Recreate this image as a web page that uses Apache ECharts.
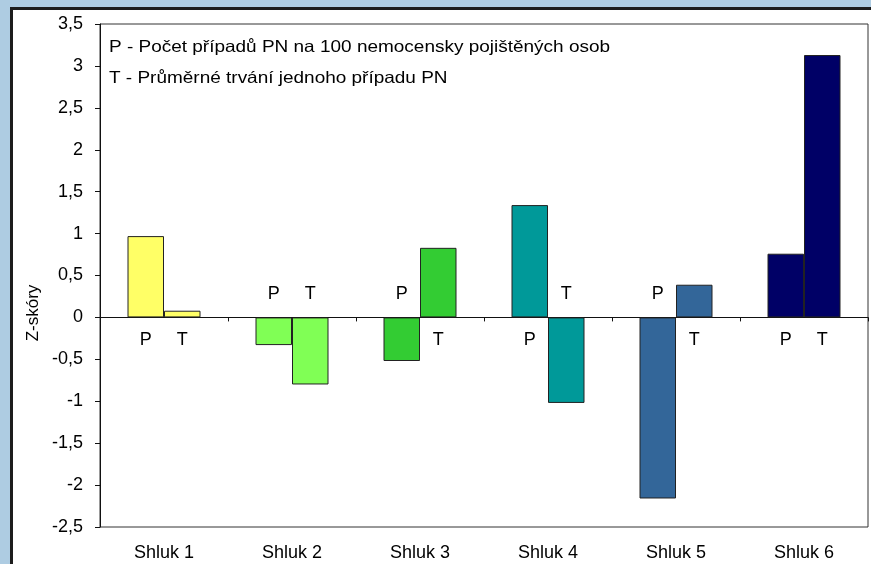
<!DOCTYPE html>
<html>
<head>
<meta charset="utf-8">
<script src="https://cdn.jsdelivr.net/npm/echarts@6/dist/echarts.min.js"></script>
<style>
  html, body { margin: 0; padding: 0; width: 871px; height: 564px; overflow: hidden; background: #aecce2; }
  #frame { position: absolute; left: 10px; top: 7px; width: 900px; height: 600px; background: #fff; border-left: 3px solid #1c1c1c; border-top: 3px solid #1c1c1c; }
  #chart { position: absolute; left: 0; top: 0; width: 871px; height: 564px; }
</style>
</head>
<body>
<div id="frame"></div>
<div id="chart"></div>
<script>
const categories = ['Shluk 1', 'Shluk 2', 'Shluk 3', 'Shluk 4', 'Shluk 5', 'Shluk 6'];
const valuesP = [0.97, -0.33, -0.52, 1.34, -2.16, 0.76];
const valuesT = [0.08, -0.80, 0.83, -1.02, 0.39, 3.13];
const clusterColors = ['#ffff66', '#80ff55', '#33cc33', '#009999', '#336699', '#000066'];
const legendLines = [
  'P - Počet případů PN na 100 nemocensky pojištěných osob',
  'T - Průměrné trvání jednoho případu PN'
];
const yTicks = { min: -2.5, max: 3.5, interval: 0.5 };
const yAxisTitle = 'Z-skóry';

const FONT = '"Liberation Sans", Arial, sans-serif';

function makeData(values, letter) {
  return values.map((v, i) => ({
    value: v,
    itemStyle: { color: clusterColors[i] },
    label: { position: v >= 0 ? 'bottom' : 'top', formatter: letter }
  }));
}

const chart = echarts.init(document.getElementById('chart'), null, { renderer: 'canvas' });
chart.setOption({
  backgroundColor: 'transparent',
  animation: false,
  textStyle: { fontFamily: FONT },
  grid: { left: 100, top: 24, right: 3, bottom: 37, show: true, borderColor: '#333', borderWidth: 1, backgroundColor: 'transparent' },
  xAxis: [
    {
      type: 'category', data: categories,
      axisLine: { onZero: true, lineStyle: { color: '#111', width: 1 } },
      axisTick: { show: true, alignWithLabel: false, length: 4, lineStyle: { color: '#111' } },
      axisLabel: { show: false }
    },
    {
      type: 'category', data: categories, position: 'bottom',
      axisLine: { show: false, onZero: false }, axisTick: { show: false },
      axisLabel: { show: true, color: '#000', fontSize: 18, fontFamily: FONT, margin: 17 }
    }
  ],
  yAxis: {
    type: 'value', min: yTicks.min, max: yTicks.max, interval: yTicks.interval,
    axisLine: { show: true, lineStyle: { color: '#111' } },
    axisTick: { show: true, length: 5, lineStyle: { color: '#111' } },
    splitLine: { show: false },
    axisLabel: { color: '#000', fontSize: 18, fontFamily: FONT, margin: 17,
      formatter: v => String(v).replace('.', ',') }
  },
  series: [
    {
      type: 'bar', name: 'P', data: makeData(valuesP, 'P'), barWidth: 36.5, barGap: '0%',
      itemStyle: { borderColor: '#222', borderWidth: 1 },
      label: { show: true, distance: 14, color: '#000', fontSize: 18, fontFamily: FONT }
    },
    {
      type: 'bar', name: 'T', data: makeData(valuesT, 'T'), barWidth: 36.5, barGap: '0%',
      itemStyle: { borderColor: '#222', borderWidth: 1 },
      label: { show: true, distance: 14, color: '#000', fontSize: 18, fontFamily: FONT }
    }
  ],
  graphic: legendLines.map((t, i) => ({
    type: 'text', x: 109, y: 47 + i * 31, scaleX: 1.15, scaleY: 1,
    style: { text: t, fill: '#000', font: '16.5px ' + FONT, verticalAlign: 'middle' }
  })).concat([{
    type: 'text', x: 33, y: 313, rotation: Math.PI / 2,
    style: { text: yAxisTitle, fill: '#000', font: '17px ' + FONT, align: 'center', verticalAlign: 'middle' }
  }])
});
</script>
</body>
</html>
